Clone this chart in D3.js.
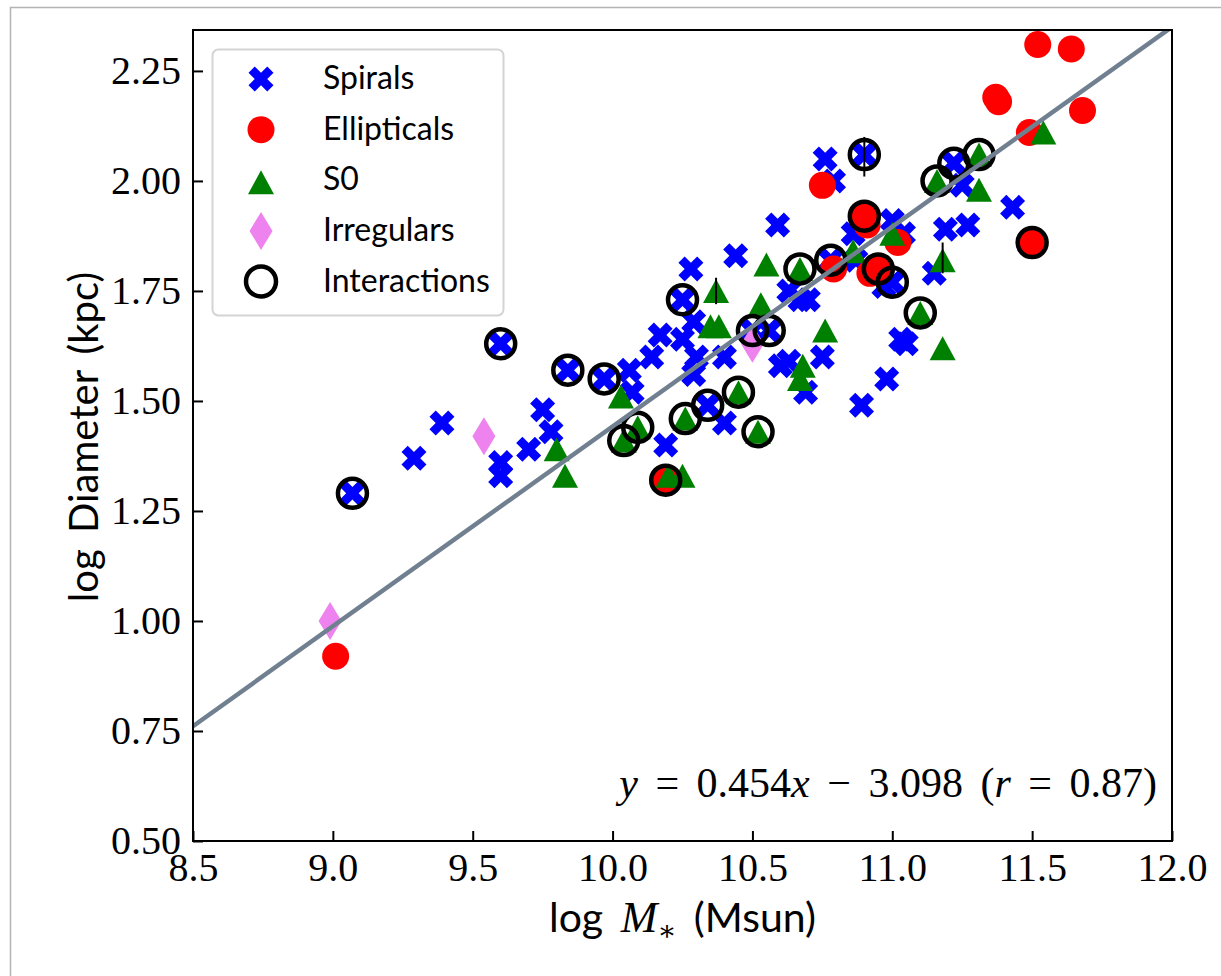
<!DOCTYPE html>
<html>
<head>
<meta charset="utf-8">
<script src="https://cdn.jsdelivr.net/npm/d3@7/dist/d3.min.js"></script>
<style>
  body { margin: 0; background: #fff; }
</style>
</head>
<body>
<script>
// values (log M*, log D)
var spiralX = [9.07, 9.29, 9.39, 9.60, 9.60, 9.60, 9.75, 9.78, 9.70, 9.84, 9.97, 10.06, 10.07, 10.14, 10.17,
               10.25, 10.28, 10.25, 10.29, 10.30, 10.29, 10.44, 10.59, 10.50, 10.56, 10.60, 10.40, 10.67, 10.69,
               10.34, 10.40, 10.19, 10.76, 10.90, 10.79, 11.22, 11.25, 11.43, 11.00, 10.86, 11.04, 11.19, 11.27,
               10.78, 10.87, 10.63, 10.70, 11.00, 10.97, 11.15, 10.75, 11.03, 11.05, 10.98, 10.63, 10.89];
var spiralY = [1.29, 1.37, 1.45, 1.63, 1.36, 1.33, 1.48, 1.43, 1.39, 1.57, 1.55, 1.57, 1.52, 1.60, 1.65,
               1.64, 1.80, 1.73, 1.68, 1.60, 1.56, 1.83, 1.90, 1.66, 1.66, 1.58, 1.60, 1.73, 1.52,
               1.49, 1.45, 1.40, 2.05, 2.06, 2.00, 2.04, 1.99, 1.94, 1.91, 1.88, 1.88, 1.89, 1.90,
               1.82, 1.82, 1.75, 1.73, 1.77, 1.76, 1.79, 1.60, 1.64, 1.63, 1.55, 1.59, 1.49];

var ellipX = [9.01, 10.19, 10.75, 10.90, 10.91, 11.02, 10.79, 10.95, 10.92, 11.50, 11.52, 11.64, 11.37, 11.38, 11.68, 11.49];
var ellipY = [0.92, 1.32, 1.99, 1.92, 1.90, 1.86, 1.80, 1.80, 1.79, 1.86, 2.31, 2.30, 2.19, 2.18, 2.16, 2.11];

var s0X = [9.80, 9.83, 10.03, 10.04, 10.09, 10.25, 10.26, 10.45, 10.52, 10.37, 10.35, 10.38, 10.55, 10.53, 10.67,
           10.68, 10.67, 10.76, 10.86, 11.00, 11.18, 11.10, 11.18, 11.16, 11.31, 11.31, 11.54, 10.20];
var s0Y = [1.39, 1.33, 1.51, 1.41, 1.44, 1.33, 1.46, 1.52, 1.43, 1.75, 1.67, 1.67, 1.81, 1.72, 1.80,
           1.58, 1.55, 1.66, 1.84, 1.88, 1.82, 1.70, 1.62, 2.00, 2.06, 1.98, 2.11, 1.33];

var irrX = [8.99, 9.54, 10.50];
var irrY = [1.00, 1.42, 1.63];

var interX = [9.07, 9.60, 9.84, 9.97, 10.04, 10.09, 10.19, 10.26, 10.25, 10.34, 10.45, 10.52, 10.50, 10.56, 10.67,
              10.78, 10.90, 10.90, 10.95, 11.00, 11.10, 11.16, 11.22, 11.31, 11.50];
var interY = [1.29, 1.63, 1.57, 1.55, 1.41, 1.44, 1.32, 1.46, 1.73, 1.49, 1.52, 1.43, 1.66, 1.66, 1.80,
              1.82, 2.06, 1.92, 1.80, 1.77, 1.70, 2.00, 2.04, 2.06, 1.86];

// the few small vertical error bars that show
var errX = [10.90, 11.18, 10.37];
var errLo = [2.01, 1.79, 1.72];
var errHi = [2.10, 1.86, 1.78];

var xTicks = [8.5, 9.0, 9.5, 10.0, 10.5, 11.0, 11.5, 12.0];
var yTicks = [0.50, 0.75, 1.00, 1.25, 1.50, 1.75, 2.00, 2.25];
var legendNames = ["Spirals", "Ellipticals", "S0", "Irregulars", "Interactions"];
var fitSlope = 0.454, fitIntercept = -3.098, fitR = 0.87;

// layout (note: "top" is taken by window.top, so prefix everything)
var width = 1221, height = 976;
var pLeft = 193, pRight = 1172, pTop = 30, pBottom = 841;
var serif = "'Liberation Serif', 'DejaVu Serif', serif";
var sans = "Lato, 'Open Sans', sans-serif";

var xScale = d3.scaleLinear().domain([8.5, 12.0]).range([pLeft, pRight]);
var yScale = d3.scaleLinear().domain([0.5, 2.343]).range([pBottom, pTop]);

var canvas = d3.select("body").append("svg")
    .attr("width", width)
    .attr("height", height);

canvas.append("rect").attr("width", width).attr("height", height).attr("fill", "#fff");
// thin frame of the screenshot
canvas.append("path").attr("d", "M10.5," + height + "V7.5H" + width)
    .attr("fill", "none").attr("stroke", "#b4b4b4").attr("stroke-width", 1.5);

// marker shapes
function crossPath(s) {
    var h = s / 2, q = s / 4;
    return "M0," + (-q) + "L" + q + "," + (-h) + "L" + h + "," + (-q) + "L" + q + ",0L" + h + "," + q +
        "L" + q + "," + h + "L0," + q + "L" + (-q) + "," + h + "L" + (-h) + "," + q + "L" + (-q) + ",0L" +
        (-h) + "," + (-q) + "L" + (-q) + "," + (-h) + "Z";
}
var triPath = "M0,-12L13,12L-13,12Z";
var diaPath = "M0,-19L11.5,0L0,19L-11.5,0Z";

canvas.append("clipPath").attr("id", "plotclip")
    .append("rect").attr("x", pLeft).attr("y", pTop).attr("width", pRight - pLeft).attr("height", pBottom - pTop);

var plot = canvas.append("g").attr("clip-path", "url(#plotclip)");

function place(d) { return "translate(" + xScale(d[0]) + "," + yScale(d[1]) + ")"; }

plot.selectAll(".spiral").data(d3.zip(spiralX, spiralY)).enter()
    .append("path").attr("class", "spiral")
    .attr("transform", place).attr("d", crossPath(25)).attr("fill", "#0000ff");

plot.selectAll(".ellip").data(d3.zip(ellipX, ellipY)).enter()
    .append("circle").attr("class", "ellip")
    .attr("cx", function (d) { return xScale(d[0]); })
    .attr("cy", function (d) { return yScale(d[1]); })
    .attr("r", 13.5).attr("fill", "#ff0000");

plot.selectAll(".s0").data(d3.zip(s0X, s0Y)).enter()
    .append("path").attr("class", "s0")
    .attr("transform", place).attr("d", triPath).attr("fill", "#008000");

plot.selectAll(".irr").data(d3.zip(irrX, irrY)).enter()
    .append("path").attr("class", "irr")
    .attr("transform", place).attr("d", diaPath).attr("fill", "#ee82ee");

plot.selectAll(".err").data(d3.zip(errX, errLo, errHi)).enter()
    .append("line").attr("class", "err")
    .attr("x1", function (d) { return xScale(d[0]); })
    .attr("x2", function (d) { return xScale(d[0]); })
    .attr("y1", function (d) { return yScale(d[1]); })
    .attr("y2", function (d) { return yScale(d[2]); })
    .attr("stroke", "#000").attr("stroke-width", 2);

plot.selectAll(".inter").data(d3.zip(interX, interY)).enter()
    .append("circle").attr("class", "inter")
    .attr("cx", function (d) { return xScale(d[0]); })
    .attr("cy", function (d) { return yScale(d[1]); })
    .attr("r", 14.5).attr("fill", "none").attr("stroke", "#000").attr("stroke-width", 4.5);

// fit line
var fitX = [8.5, 12.0];
plot.append("path")
    .datum(fitX)
    .attr("d", d3.line()
        .x(function (d) { return xScale(d); })
        .y(function (d) { return yScale(fitSlope * d + fitIntercept); }))
    .attr("fill", "none").attr("stroke", "#708090").attr("stroke-width", 4.5);

// axes, ticks pointing inward
var xAxis = d3.axisBottom(xScale).tickValues(xTicks).tickFormat(d3.format(".1f"))
    .tickSizeInner(-10).tickSizeOuter(0).tickPadding(12);
var yAxis = d3.axisLeft(yScale).tickValues(yTicks).tickFormat(d3.format(".2f"))
    .tickSizeInner(-10).tickSizeOuter(0).tickPadding(12);

var gx = canvas.append("g").attr("transform", "translate(0," + pBottom + ")").call(xAxis);
var gy = canvas.append("g").attr("transform", "translate(" + pLeft + ",0)").call(yAxis);
[gx, gy].forEach(function (g) {
    g.select(".domain").remove();
    g.selectAll(".tick line").attr("stroke", "#000").attr("stroke-width", 2);
    g.selectAll(".tick text").attr("fill", "#000").style("font-family", serif).style("font-size", "40px");
});

canvas.append("rect")
    .attr("x", pLeft).attr("y", pTop).attr("width", pRight - pLeft).attr("height", pBottom - pTop)
    .attr("fill", "none").attr("stroke", "#000").attr("stroke-width", 2);

// axis titles
var xt = canvas.append("text").attr("x", (pLeft + pRight) / 2).attr("y", 932)
    .attr("text-anchor", "middle").style("font-family", sans).style("font-size", "41px")
    .style("word-spacing", "7px").attr("fill", "#000");
xt.append("tspan").text("log ");
xt.append("tspan").style("font-family", serif).style("font-style", "italic").style("font-size", "44px").text("M");
xt.append("tspan").attr("dy", 8).style("font-family", serif).style("font-size", "28px").text("∗");
xt.append("tspan").attr("dy", -8).text(" (Msun)");

canvas.append("text")
    .attr("transform", "translate(98,437) rotate(-90)")
    .attr("text-anchor", "middle").style("font-family", sans).style("font-size", "40px")
    .style("word-spacing", "6px").attr("fill", "#000")
    .text("log Diameter (kpc)");

// fit label
var ft = canvas.append("text").attr("x", 1157).attr("y", 797)
    .attr("text-anchor", "end")
    .style("font-family", serif).style("font-size", "42px").style("word-spacing", "7px").attr("fill", "#000");
ft.append("tspan").style("font-style", "italic").text("y");
ft.append("tspan").text(" = " + fitSlope.toFixed(3));
ft.append("tspan").style("font-style", "italic").text("x");
ft.append("tspan").text(" − " + Math.abs(fitIntercept).toFixed(3) + " (");
ft.append("tspan").style("font-style", "italic").text("r");
ft.append("tspan").text(" = " + fitR.toFixed(2) + ")");

// legend
var legend = canvas.append("g");
legend.append("rect").attr("x", 212.5).attr("y", 49.5).attr("width", 291).attr("height", 266)
    .attr("rx", 6).attr("fill", "#fff").attr("fill-opacity", 0.85)
    .attr("stroke", "#d4d4d4").attr("stroke-width", 2);

var legendRow = d3.scaleLinear().domain([0, 4]).range([79, 281.5]);
var rows = legend.selectAll(".row").data(legendNames).enter().append("g")
    .attr("transform", function (d, i) { return "translate(0," + legendRow(i) + ")"; });
rows.append("text").attr("x", 323).attr("y", 10)
    .style("font-family", sans).style("font-size", "32px").attr("fill", "#000")
    .text(function (d) { return d; });

rows.each(function (d, i) {
    var g = d3.select(this);
    if (i === 0) g.append("path").attr("transform", "translate(261,0)").attr("d", crossPath(25)).attr("fill", "#0000ff");
    if (i === 1) g.append("circle").attr("cx", 261).attr("r", 13.5).attr("fill", "#ff0000");
    if (i === 2) g.append("path").attr("transform", "translate(261,2)").attr("d", triPath).attr("fill", "#008000");
    if (i === 3) g.append("path").attr("transform", "translate(261,0)").attr("d", diaPath).attr("fill", "#ee82ee");
    if (i === 4) g.append("circle").attr("cx", 261).attr("r", 15).attr("fill", "none").attr("stroke", "#000").attr("stroke-width", 4.5);
});
</script>
</body>
</html>
